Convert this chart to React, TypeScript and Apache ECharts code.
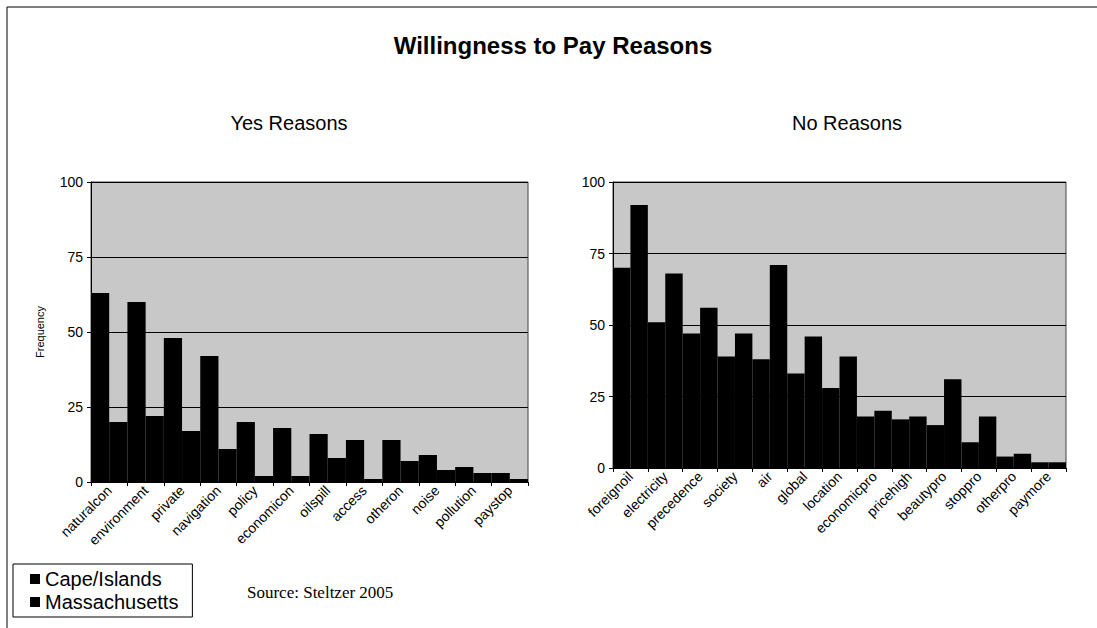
import React, { useEffect, useRef } from "react";
import * as echarts from "echarts";

// Reasons given by respondents willing to pay
const yesCategories = [
  "naturalcon", "environment", "private", "navigation", "policy", "economicon",
  "oilspill", "access", "otheron", "noise", "pollution", "paystop",
];
const yesCape = [63, 60, 48, 42, 20, 18, 16, 14, 14, 9, 5, 3];
const yesMass = [20, 22, 17, 11, 2, 2, 8, 1, 7, 4, 3, 1];

// Reasons given by respondents not willing to pay
const noCategories = [
  "foreignoil", "electricity", "precedence", "society", "air", "global", "location",
  "economicpro", "pricehigh", "beautypro", "stoppro", "otherpro", "paymore",
];
const noCape = [70, 51, 47, 39, 38, 33, 28, 18, 17, 15, 9, 4, 2];
const noMass = [92, 68, 56, 47, 71, 46, 39, 20, 18, 31, 18, 5, 2];

const seriesNames = ["Cape/Islands", "Massachusetts"];
const yTicks = { min: 0, max: 100, interval: 25 };

const SANS = "'Liberation Sans', Arial, sans-serif";
const SERIF = "'Liberation Serif', 'Times New Roman', serif";

export default function App() {
  const ref = useRef<HTMLDivElement>(null);

  useEffect(() => {
    if (!ref.current) return;
    const chart = echarts.init(ref.current, undefined, { renderer: "svg" });

    const xAxis = (idx: number, data: string[]) => ({
      type: "category",
      gridIndex: idx,
      data,
      boundaryGap: true,
      axisLine: { lineStyle: { color: "#000", width: 1 } },
      axisTick: { show: true, length: 4, lineStyle: { color: "#000" } },
      axisLabel: {
        interval: 0,
        rotate: 45,
        color: "#000",
        fontFamily: SANS,
        fontSize: 14,
        margin: 6,
      },
    });

    const yAxis = (idx: number) => ({
      type: "value",
      gridIndex: idx,
      ...yTicks,
      axisLine: { show: true, lineStyle: { color: "#000", width: 1 } },
      axisTick: { show: true, length: 4, lineStyle: { color: "#000" } },
      axisLabel: { color: "#000", fontFamily: SANS, fontSize: 14, margin: 8 },
      splitLine: { show: true, lineStyle: { color: "#000", width: 1 } },
    });

    const bar = (name: string, idx: number, data: number[]) => ({
      type: "bar",
      name,
      xAxisIndex: idx,
      yAxisIndex: idx,
      data,
      barGap: "0%",
      barCategoryGap: "0%",
      itemStyle: { color: "#000" },
    });

    const subTitle = { fontFamily: SANS, fontSize: 20, fontWeight: "normal", color: "#000" };

    chart.setOption({
      animation: false,
      backgroundColor: "#fff",
      title: [
        {
          text: "Willingness to Pay Reasons",
          left: 548,
          top: 28,
          textAlign: "center",
          textStyle: { fontFamily: SANS, fontSize: 24, fontWeight: "bold", color: "#000" },
        },
        { text: "Yes Reasons", left: 284, top: 108, textAlign: "center", textStyle: subTitle },
        { text: "No Reasons", left: 842, top: 108, textAlign: "center", textStyle: subTitle },
      ],
      legend: {
        data: seriesNames,
        orient: "vertical",
        left: 13,
        top: 564,
        itemWidth: 10,
        itemHeight: 10,
        itemGap: 3,
        padding: [5, 14, 5, 17],
        borderColor: "#000",
        borderWidth: 1,
        backgroundColor: "#fff",
        icon: "rect",
        textStyle: { fontFamily: SANS, fontSize: 20, color: "#000" },
      },
      grid: [
        {
          left: 91, top: 182, width: 437, height: 300,
          show: true, backgroundColor: "#c8c8c8", borderColor: "#444", borderWidth: 1,
        },
        {
          left: 613, top: 182, width: 453, height: 286,
          show: true, backgroundColor: "#c8c8c8", borderColor: "#444", borderWidth: 1,
        },
      ],
      xAxis: [xAxis(0, yesCategories), xAxis(1, noCategories)],
      yAxis: [yAxis(0), yAxis(1)],
      series: [
        bar(seriesNames[0], 0, yesCape),
        bar(seriesNames[1], 0, yesMass),
        bar(seriesNames[0], 1, noCape),
        bar(seriesNames[1], 1, noMass),
      ],
      graphic: [
        // page frame
        { type: "line", shape: { x1: 7, y1: 7, x2: 1097, y2: 7 }, style: { stroke: "#000", lineWidth: 1 } },
        { type: "line", shape: { x1: 7, y1: 7, x2: 7, y2: 628 }, style: { stroke: "#000", lineWidth: 1 } },
        {
          type: "text",
          x: 40,
          y: 332,
          rotation: Math.PI / 2,
          style: {
            text: "Frequency",
            fontFamily: SANS,
            fontSize: 11,
            fill: "#000",
            align: "center",
            verticalAlign: "middle",
          },
        },
        {
          type: "text",
          x: 247,
          y: 592,
          style: {
            text: "Source: Steltzer 2005",
            fontFamily: SERIF,
            fontSize: 17,
            fill: "#000",
            align: "left",
            verticalAlign: "middle",
          },
        },
      ],
    });

    return () => chart.dispose();
  }, []);

  return (
    <div
      ref={ref}
      style={{ position: "absolute", left: 0, top: 0, width: 1097, height: 628 }}
    />
  );
}
